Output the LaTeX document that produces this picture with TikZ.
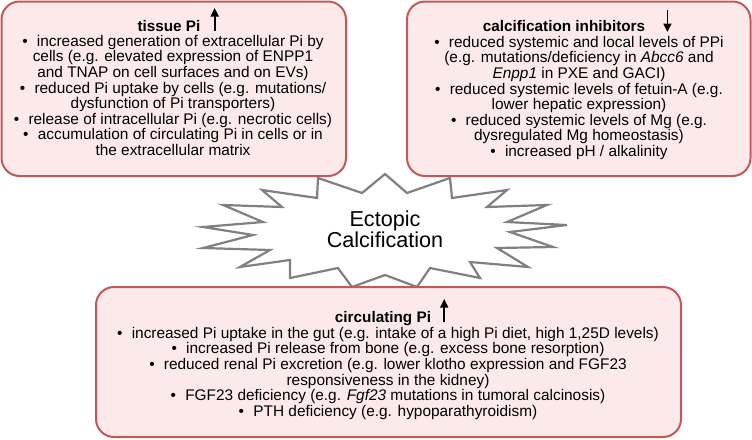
\documentclass[tikz,border=0pt]{standalone}
\usepackage{fontspec}
\setmainfont{Liberation Sans}
\usetikzlibrary{arrows.meta}
\definecolor{boxfill}{RGB}{252,234,234}
\definecolor{boxline}{RGB}{196,88,88}
\definecolor{stargray}{RGB}{128,128,128}
\tikzset{
  pbox/.style={draw=boxline, fill=boxfill, line width=2pt, rounded corners=18pt},
  ttl/.style={inner sep=0pt, font=\fontsize{15.3}{15.6}\selectfont\bfseries},
  body/.style={inner sep=0pt, align=center, font=\fontsize{15.4}{15.6}\selectfont},
  updown/.style={line width=1.7pt, -{Triangle[length=8.5pt,width=8pt]}},
  burst/.style={draw=stargray, fill=white, line width=2.2pt, line join=miter},
}
\newcommand{\bul}{\textbullet\hspace{0.6em}}
\begin{document}
\begin{tikzpicture}[x=1pt,y=-1pt]
\useasboundingbox (0,0) rectangle (752,439);
% starburst
\draw[burst] (318,178) -- (362,193) -- (385,174) -- (407,193) -- (450,178) -- (452,198)
  -- (507,190) -- (487,207) -- (547,205) -- (507,222) -- (567,225) -- (510,232)
  -- (553,247) -- (497,248) -- (528,267) -- (470,262) -- (480,278) -- (430,268)
  -- (417,287) -- (385,275) -- (352,287) -- (338,268) -- (290,278) -- (290,260)
  -- (240,267) -- (270,250) -- (203,248) -- (253,235) -- (203,227) -- (263,222)
  -- (223,205) -- (282,207) -- (262,190) -- (317,198) -- cycle;
\node[align=center, inner sep=0pt, font=\fontsize{21.6}{21}\selectfont] (ec) at (385,229) {Ectopic\\Calcification};
% boxes
\draw[pbox] (1.5,1.5) rectangle (346,176);
\draw[pbox] (407,1.5) rectangle (750.5,176);
\draw[pbox] (96,287) rectangle (681,437);
% box 1
\node[ttl, anchor=base] (t1) at (169,31) {tissue Pi};
\draw[updown] ([xshift=14pt]t1.base east) -- ++(0,-23);
\node[body, anchor=north] (b1) at (173,35) {\bul increased generation of extracellular Pi by\\
cells (e.g. elevated expression of ENPP1\\
and TNAP on cell surfaces and on EVs)\\
\bul reduced Pi uptake by cells (e.g. mutations/\\
dysfunction of Pi transporters)\\
\bul release of intracellular Pi (e.g. necrotic cells)\\
\bul accumulation of circulating Pi in cells or in\\
the extracellular matrix};
% box 2
\node[ttl, anchor=base] (t2) at (564,31) {calcification inhibitors};
\draw[updown] ([xshift=22pt,yshift=21pt]t2.base east) -- ++(0,22);
\node[body, anchor=north] (b2) at (579,36) {\bul reduced systemic and local levels of PPi\\
(e.g. mutations/deficiency in \textit{Abcc6} and\\
\textit{Enpp1} in PXE and GACI)\\
\bul reduced systemic levels of fetuin-A (e.g.\\
lower hepatic expression)\\
\bul reduced systemic levels of Mg (e.g.\\
dysregulated Mg homeostasis)\\
\bul increased pH / alkalinity};
% box 3
\node[ttl, anchor=base] (t3) at (383,322) {circulating Pi};
\draw[updown] ([xshift=13pt]t3.base east) -- ++(0,-23);
\node[body, anchor=north] (b3) at (388,327) {\bul increased Pi uptake in the gut (e.g. intake of a high Pi diet, high 1,25D levels)\\
\bul increased Pi release from bone (e.g. excess bone resorption)\\
\bul reduced renal Pi excretion (e.g. lower klotho expression and FGF23\\
responsiveness in the kidney)\\
\bul FGF23 deficiency (e.g. \textit{Fgf23} mutations in tumoral calcinosis)\\
\bul PTH deficiency (e.g. hypoparathyroidism)};
\end{tikzpicture}
\end{document}
